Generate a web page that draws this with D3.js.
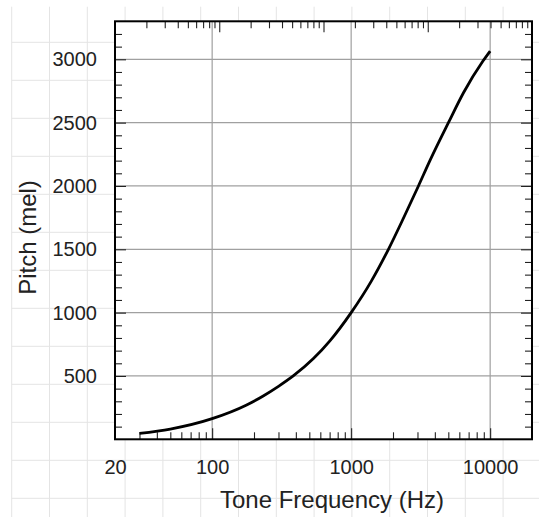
<!DOCTYPE html>
<html>
<head>
<meta charset="utf-8">
<script src="https://cdn.jsdelivr.net/npm/d3@7"></script>
<style>
  html, body { margin: 0; padding: 0; background: #ffffff; }
  svg { display: block; }
  text { font-family: "Liberation Sans", Arial, sans-serif; fill: #222; }
</style>
</head>
<body>
<svg id="chart" width="539" height="517"></svg>
<script>
// Mel pitch curve: tone frequency (Hz) against perceived pitch (mel)
const freqHz   = [30, 50, 100, 177, 233, 300, 383, 533, 703, 1000, 1400, 1854, 2400, 3048, 3700, 5010, 6430, 8900, 10000];
const pitchMel = [47, 81, 163, 271, 342, 418, 500, 635, 777, 1000, 1251, 1500, 1755, 2000, 2204, 2500, 2736, 2988, 3065];

const xTickLabels = [20, 100, 1000, 10000];
const xGridValues = [100, 1000, 10000];
const yTickLabels = [500, 1000, 1500, 2000, 2500, 3000];

const svg = d3.select("#chart");
const W = 539, H = 517;
const plotL = 115, plotR = 532, plotT = 21.3, plotB = 439.3;

const x = d3.scaleLog().domain([20, 20000]).range([plotL, plotR]);
const xTop = d3.scaleLog().domain([10, 100000]).range([plotL, plotR]);
const y = d3.scaleLinear().domain([0, 3300]).range([plotB, plotT]);

// graph-paper backdrop
const paper = svg.append("g").attr("stroke", "#e4e4e4").attr("stroke-width", 1);
paper.selectAll("line.v").data(d3.range(0, 14)).join("line")
  .attr("x1", k => 11.7 + 37.8 * k).attr("x2", k => 11.7 + 37.8 * k)
  .attr("y1", 6.7).attr("y2", H);
paper.selectAll("line.h").data(d3.range(0, 13)).join("line")
  .attr("y1", k => 42.3 + 38 * k).attr("y2", k => 42.3 + 38 * k)
  .attr("x1", 11.7).attr("x2", W);

// plot area
svg.append("rect").attr("x", plotL).attr("y", plotT)
  .attr("width", plotR - plotL).attr("height", plotB - plotT)
  .attr("fill", "#ffffff");

// grid lines
const grid = svg.append("g").attr("stroke", "#a0a0a0").attr("stroke-width", 1.2);
grid.selectAll("line.gx").data(xGridValues).join("line")
  .attr("x1", d => x(d)).attr("x2", d => x(d)).attr("y1", plotT).attr("y2", plotB);
grid.selectAll("line.gy").data(yTickLabels).join("line")
  .attr("y1", d => y(d)).attr("y2", d => y(d)).attr("x1", plotL).attr("x2", plotR);

// helpers for inward ticks
function decadeMinors(lo, hi) {
  const out = [];
  for (let d = 1; d <= 100000; d *= 10) {
    for (let m = 2; m <= 9; m++) {
      const v = m * d;
      if (v > lo && v < hi) out.push(v);
    }
  }
  return out;
}
function tickGroup(axis, tx, ty) {
  const g = svg.append("g").attr("transform", `translate(${tx},${ty})`).call(axis);
  g.select(".domain").remove();
  g.selectAll(".tick line").attr("stroke", "#222").attr("stroke-width", 1.1);
  return g;
}

// bottom ticks (inward)
tickGroup(d3.axisTop(x).tickValues(decadeMinors(20, 20000)).tickSize(7).tickFormat(""), 0, plotB);
tickGroup(d3.axisTop(x).tickValues(xGridValues).tickSize(11).tickFormat(""), 0, plotB);
// top ticks (inward)
tickGroup(d3.axisBottom(xTop).tickValues(decadeMinors(10, 100000)).tickSize(7).tickFormat(""), 0, plotT);
tickGroup(d3.axisBottom(xTop).tickValues([100, 1000, 10000]).tickSize(11).tickFormat(""), 0, plotT);
// left and right ticks (inward)
const yMinor = d3.range(100, 3300, 100).filter(v => v % 500 !== 0);
tickGroup(d3.axisRight(y).tickValues(yMinor).tickSize(7).tickFormat(""), plotL, 0);
tickGroup(d3.axisRight(y).tickValues(yTickLabels).tickSize(11).tickFormat(""), plotL, 0);
tickGroup(d3.axisLeft(y).tickValues(yMinor).tickSize(7).tickFormat(""), plotR, 0);
tickGroup(d3.axisLeft(y).tickValues(yTickLabels).tickSize(11).tickFormat(""), plotR, 0);

// tick labels
const xLab = svg.append("g").attr("transform", `translate(0,${plotB})`)
  .call(d3.axisBottom(x).tickValues(xTickLabels).tickSize(0).tickPadding(21).tickFormat(d3.format("d")));
xLab.select(".domain").remove();
xLab.selectAll("text").attr("font-size", 20).attr("font-family", "Liberation Sans, Arial, sans-serif").attr("fill", "#2a2a2a");

const yLab = svg.append("g").attr("transform", `translate(${plotL},0)`)
  .call(d3.axisLeft(y).tickValues(yTickLabels).tickSize(0).tickPadding(18).tickFormat(d3.format("d")));
yLab.select(".domain").remove();
yLab.selectAll("text").attr("font-size", 20).attr("font-family", "Liberation Sans, Arial, sans-serif").attr("fill", "#2a2a2a");

// curve
const line = d3.line()
  .x((d, i) => x(freqHz[i]))
  .y((d, i) => y(pitchMel[i]))
  .curve(d3.curveMonotoneX);
svg.append("path").datum(pitchMel)
  .attr("d", line)
  .attr("fill", "none").attr("stroke", "#000").attr("stroke-width", 2.8)
  .attr("stroke-linejoin", "round").attr("stroke-linecap", "butt");

// frame
svg.append("rect").attr("x", plotL).attr("y", plotT)
  .attr("width", plotR - plotL).attr("height", plotB - plotT)
  .attr("fill", "none").attr("stroke", "#000").attr("stroke-width", 2);

// axis titles
svg.append("text").attr("x", 332).attr("y", 508)
  .attr("text-anchor", "middle").attr("font-size", 24).attr("fill", "#2a2a2a")
  .text("Tone Frequency (Hz)");
svg.append("text").attr("transform", "translate(35.5,237.5) rotate(-90)")
  .attr("text-anchor", "middle").attr("font-size", 24).attr("fill", "#2a2a2a")
  .text("Pitch (mel)");
</script>
</body>
</html>
